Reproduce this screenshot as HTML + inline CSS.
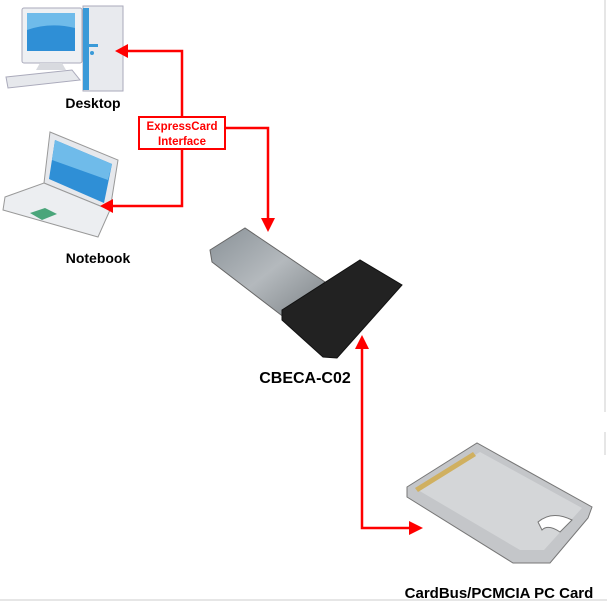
<!DOCTYPE html>
<html><head><style>
body{margin:0;background:#fff;}
svg{display:block;font-family:"Liberation Sans",sans-serif;font-weight:bold;}
</style></head><body>
<svg width="607" height="604" viewBox="0 0 607 604">
<line x1="605" y1="0" x2="605" y2="412" stroke="#ccc"/>
<line x1="605" y1="432" x2="605" y2="455" stroke="#ccc"/>
<line x1="0" y1="600" x2="607" y2="600" stroke="#ccc"/>
<!-- Desktop -->
<rect x="83" y="6" width="40" height="85" fill="#e8eaee" stroke="#aab" />
<rect x="83" y="8" width="6" height="82" fill="#3a9ad8"/>
<rect x="88" y="44" width="10" height="3" fill="#3a9ad8"/>
<circle cx="92" cy="53" r="2" fill="#3a9ad8"/>
<rect x="22" y="8" width="60" height="55" rx="2" fill="#eef0f3" stroke="#aab"/>
<rect x="27" y="13" width="48" height="38" fill="#2f8fd6"/>
<path d="M27 30 Q50 22 75 28 L75 13 L27 13Z" fill="#6fbbea"/>
<polygon points="40,63 62,63 66,70 36,70" fill="#d8dadf"/>
<polygon points="6,77 72,70 80,80 8,88" fill="#e6e8ec" stroke="#aab"/>
<!-- Notebook -->
<polygon points="50,132 118,160 110,210 44,183" fill="#e6e8ec" stroke="#999"/>
<polygon points="55,140 112,164 104,203 49,179" fill="#2f8fd6"/>
<polygon points="55,140 112,164 108,180 52,160" fill="#6fbbea"/>
<polygon points="5,197 44,183 110,210 98,237 3,210" fill="#eceef1" stroke="#999"/>
<polygon points="30,213 45,208 57,214 42,220" fill="#4aa57a"/>
<!-- Arrows left -->
<g stroke="#f00" stroke-width="2.5" fill="none">
<polyline points="128,51 182,51 182,116"/>
<polyline points="182,149 182,206 113,206"/>
<polyline points="225,128 268,128 268,220"/>
<polyline points="362,348 362,528 410,528"/>
</g>
<g fill="#f00">
<polygon points="115,51 128,44 128,58"/>
<polygon points="100,206 113,199 113,213"/>
<polygon points="268,232 261,218 275,218"/>
<polygon points="362,335 355,349 369,349"/>
<polygon points="423,528 409,521 409,535"/>
</g>
<rect x="139" y="117" width="86" height="32" fill="#fff" stroke="#f00" stroke-width="2"/>
<text x="182" y="130" font-size="11.5" fill="#f00" text-anchor="middle">ExpressCard</text>
<text x="182" y="145" font-size="11.5" fill="#f00" text-anchor="middle">Interface</text>
<text x="93" y="108" font-size="14" text-anchor="middle">Desktop</text>
<text x="98" y="263" font-size="14" text-anchor="middle">Notebook</text>
<!-- CBECA card -->
<defs><linearGradient id="s" x1="0" y1="0" x2="1" y2="1"><stop offset="0" stop-color="#8a9298"/><stop offset=".5" stop-color="#b4b9bd"/><stop offset="1" stop-color="#7c8286"/></linearGradient></defs>
<polygon points="210,250 245,228 325,282 285,318 212,262" fill="url(#s)" stroke="#666"/>
<polygon points="282,310 360,260 402,285 337,358 323,357 282,320" fill="#222" stroke="#111"/>
<text x="305" y="383" font-size="16" text-anchor="middle">CBECA-C02</text>
<!-- PC card -->
<polygon points="407,487 477,443 592,507 588,518 550,563 513,563 407,497" fill="#c4c6c9" stroke="#777"/>
<polygon points="418,490 480,452 582,508 544,550 520,550" fill="#d4d6d8"/>
<polygon points="415,488 473,452 476,456 418,492" fill="#d0b060"/>
<path d="M538,522 Q552,510 572,520 L560,532 Q548,524 542,530Z" fill="#fff" stroke="#777"/>
<text x="499" y="598" font-size="15" text-anchor="middle">CardBus/PCMCIA PC Card</text>
</svg>
</body></html>
